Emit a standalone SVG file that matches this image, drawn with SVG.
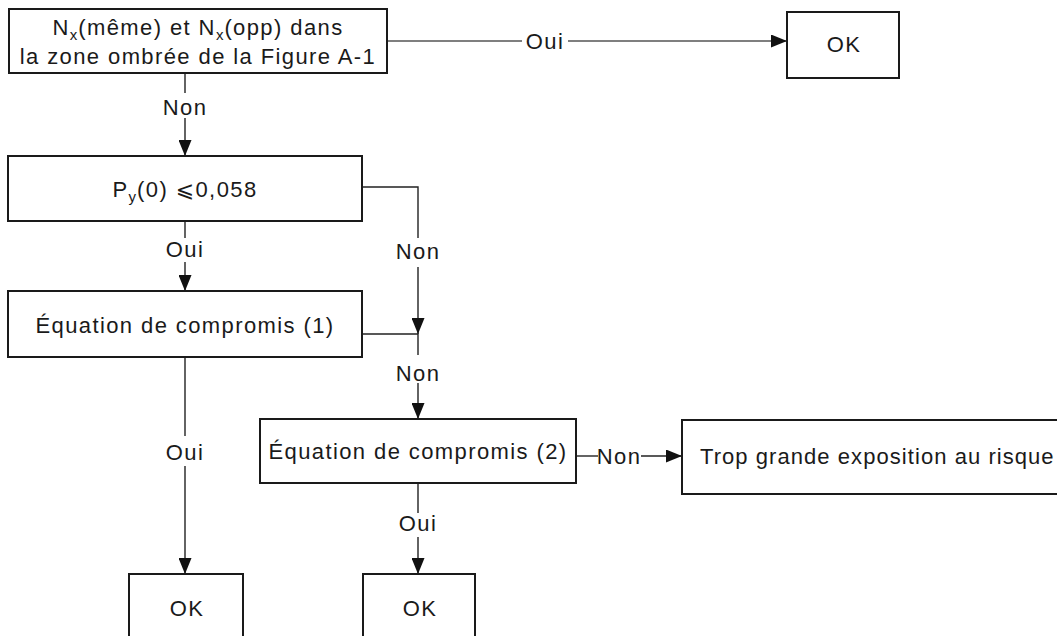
<svg xmlns="http://www.w3.org/2000/svg" width="1057" height="636" viewBox="0 0 1057 636">
<style>
.box{fill:#fff;stroke:#1a1a1a;stroke-width:2}
.t{font-family:"Liberation Sans",Arial,sans-serif;font-size:22px;letter-spacing:1.4px;fill:#1a1a1a;text-anchor:middle}
.sub{font-size:15px;letter-spacing:1px}
.lbl{font-family:"Liberation Sans",Arial,sans-serif;font-size:22px;letter-spacing:1.4px;fill:#1a1a1a;text-anchor:middle}
.c{fill:none;stroke:#222;stroke-width:1.4}
.a{marker-end:url(#arr)}
</style>
<defs>
<marker id="arr" markerUnits="userSpaceOnUse" markerWidth="16" markerHeight="13" refX="16" refY="6.5" orient="auto">
<path d="M0,0 L16,6.5 L0,13 z" fill="#111"/>
</marker>
</defs>
<g id="connectors">
<path class="c" d="M387,41 H522" style="stroke:#555;stroke-width:1.6"/>
<path class="c a" d="M568,41 H787" style="stroke:#555;stroke-width:1.6"/>
<text class="lbl" x="545" y="49">Oui</text>
<path class="c" d="M185,73 V93"/>
<path class="c a" d="M185,118 V156"/>
<text class="lbl" x="185" y="115">Non</text>
<path class="c" d="M185,221 V238"/>
<path class="c a" d="M185,262 V291"/>
<text class="lbl" x="185" y="257">Oui</text>
<path class="c" d="M362,187 H418 V238"/>
<path class="c a" d="M418,267 V334"/>
<text class="lbl" x="418" y="259">Non</text>
<path class="c" d="M362,334 H418 V355"/>
<path class="c a" d="M418,383 V419"/>
<text class="lbl" x="418" y="381">Non</text>
<path class="c" d="M185,357 V436"/>
<path class="c a" d="M185,466 V574"/>
<text class="lbl" x="185" y="460">Oui</text>
<path class="c" d="M576,456 H598"/>
<path class="c a" d="M641,456 H682"/>
<text class="lbl" x="619" y="464">Non</text>
<path class="c" d="M418,483 V513"/>
<path class="c a" d="M418,537 V574"/>
<text class="lbl" x="418" y="531">Oui</text>
</g>
<g id="n1">
<rect class="box" x="9" y="9" width="378" height="64"/>
<text class="t" x="198" y="35">N<tspan class="sub" dy="5">x</tspan><tspan dy="-5">(même) et N</tspan><tspan class="sub" dy="5">x</tspan><tspan dy="-5">(opp) dans</tspan></text>
<text class="t" x="198" y="64">la zone ombrée de la Figure A-1</text>
</g>
<g id="ok-top">
<rect class="box" x="787" y="12" width="112" height="66"/>
<text class="t" x="844" y="52">OK</text>
</g>
<g id="n2">
<rect class="box" x="8" y="156" width="354" height="65"/>
<text class="t" x="185" y="197">P<tspan class="sub" dy="5">y</tspan><tspan dy="-5">(0) </tspan><tspan style="font-family:'DejaVu Sans','Liberation Sans',sans-serif">⩽</tspan>0,058</text>
</g>
<g id="n3">
<rect class="box" x="8" y="291" width="354" height="66"/>
<text class="t" x="185" y="333">Équation de compromis (1)</text>
</g>
<g id="n4">
<rect class="box" x="260" y="419" width="316" height="64"/>
<text class="t" x="418" y="459">Équation de compromis (2)</text>
</g>
<g id="n5">
<rect class="box" x="682" y="420" width="400" height="74"/>
<text class="t" x="700" y="464" style="text-anchor:start" textLength="355" lengthAdjust="spacing">Trop grande exposition au risque</text>
</g>
<g id="ok-left">
<rect class="box" x="129" y="574" width="114" height="80"/>
<text class="t" x="187" y="616">OK</text>
</g>
<g id="ok-mid">
<rect class="box" x="363" y="574" width="112" height="80"/>
<text class="t" x="420" y="616">OK</text>
</g>
</svg>
